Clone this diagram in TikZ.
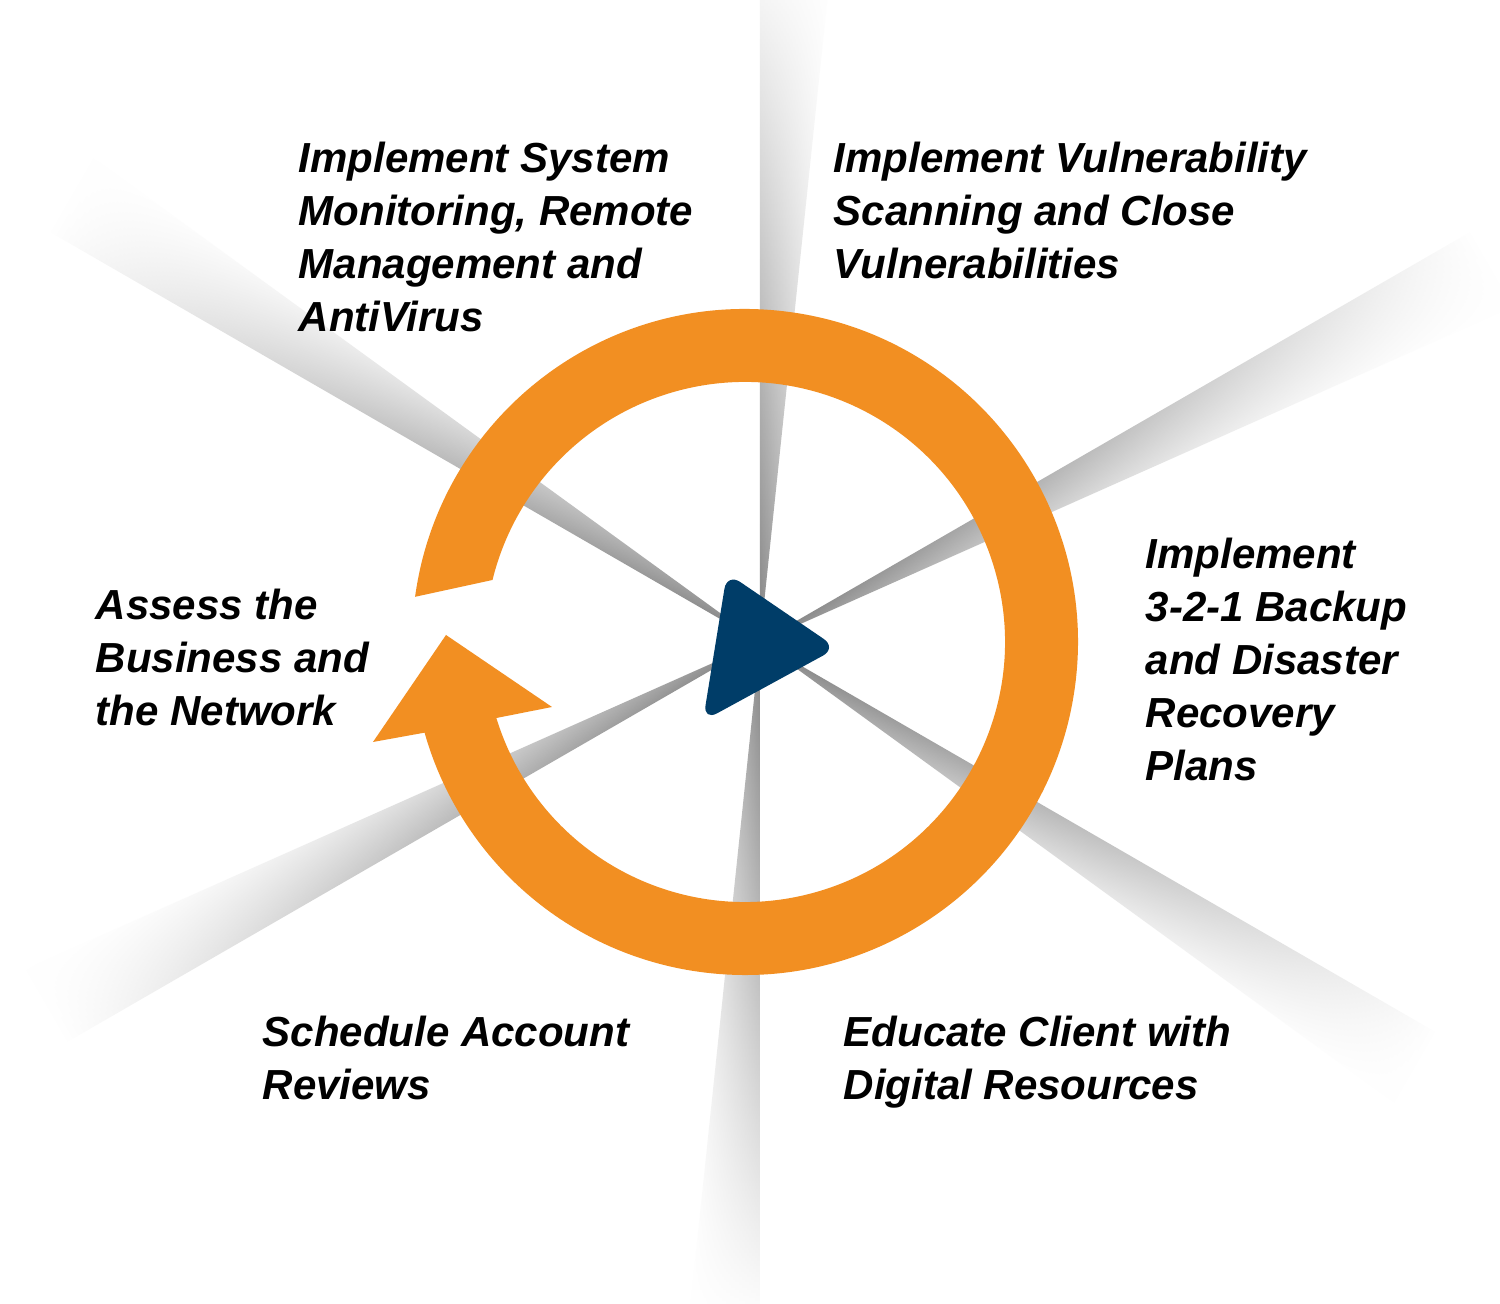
\documentclass[tikz,border=0pt]{standalone}
\usepackage{fontspec}
\setmainfont{Liberation Sans}
\usetikzlibrary{fadings}
\definecolor{ringorange}{HTML}{F28F22}
\definecolor{playblue}{HTML}{003D68}
\tikzfading[name=spokefade, left color=transparent!0, middle color=transparent!35, right color=transparent!100]
\tikzset{
  steplabel/.style={anchor=base west, inner sep=0pt, align=left,
    font=\fontsize{11.95}{15.08}\selectfont\bfseries\itshape},
  spoke/.style={top color=black!48, bottom color=white, path fading=spokefade}
}
\begin{document}
\begin{tikzpicture}[x=0.01cm, y=0.01cm]
\useasboundingbox (-760,-662) rectangle (740,642);
\fill[white] (-760,-662) rectangle (740,642);
\clip (-760,-662) rectangle (740,642);
% spokes
\foreach \a/\len in {90/700, 30/820, -30/780, -90/680, -150/800, 150/820}{
  \begin{scope}[transform canvas={rotate=\a}]
    \shade[spoke] (0,0) -- (\len,0) -- (\len,-0.105*\len) -- cycle;
  \end{scope}
}
% ring with arrow
\begin{scope}[shift={(-15,0)}]
\fill[ringorange] (172.2:333) arc[start angle=172.2, end angle=-164.2, radius=333]
  -- (-372,-100) -- (-299,7) -- (-193,-65) -- (-163:260)
  arc[start angle=-163, end angle=166.2, radius=260] -- cycle;
\end{scope}
\fill[playblue, rounded corners=1.6mm] (-33,69) -- (77,-6) -- (-57,-79) -- cycle;
% labels (placed at the baseline of their last line)
\node[steplabel] (monitor) at (-462,310) {Implement System\\Monitoring, Remote\\Management and\\AntiVirus};
\node[steplabel] (scan) at (73,363) {Implement Vulnerability\\Scanning and Close\\Vulnerabilities};
\node[steplabel] (backup) at (385,-139) {Implement\\3-2-1 Backup\\and Disaster\\Recovery\\Plans};
\node[steplabel] (assess) at (-665,-84) {Assess the\\Business and\\the Network};
\node[steplabel] (review) at (-498,-458) {Schedule Account\\Reviews};
\node[steplabel] (educate) at (83,-458) {Educate Client with\\Digital Resources};
\end{tikzpicture}
\end{document}
